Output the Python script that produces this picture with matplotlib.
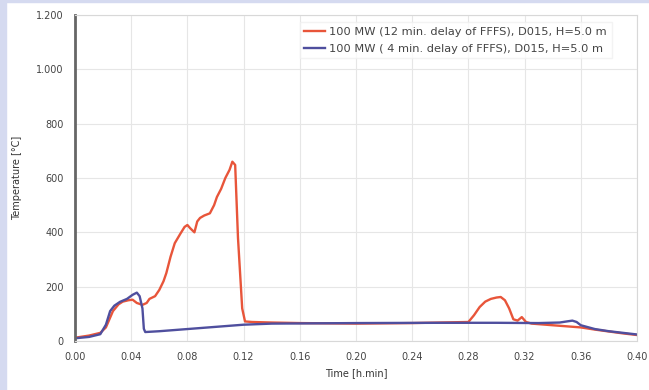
import numpy as np
import matplotlib.pyplot as plt
from matplotlib.patches import Rectangle
from matplotlib.ticker import FuncFormatter

# time [h.min] and temperature [C]
t_red = [0.000, 0.010, 0.018, 0.022, 0.027, 0.031, 0.034, 0.038, 0.041, 0.044,
         0.048, 0.051, 0.053, 0.057, 0.060, 0.063, 0.065, 0.068, 0.071, 0.075,
         0.078, 0.080, 0.082, 0.085, 0.087, 0.089, 0.092, 0.096, 0.099, 0.101,
         0.104, 0.107, 0.110, 0.112, 0.114, 0.116, 0.119, 0.121, 0.126, 0.140,
         0.160, 0.180, 0.200, 0.220, 0.240, 0.260, 0.280, 0.284, 0.288, 0.292,
         0.296, 0.300, 0.303, 0.306, 0.309, 0.312, 0.315, 0.318, 0.321, 0.325,
         0.330, 0.340, 0.350, 0.360, 0.370, 0.380, 0.390, 0.400]
T_red = [12, 20, 30, 50, 110, 135, 145, 150, 152, 140,
         133, 140, 155, 165, 188, 220, 250, 310, 360, 395,
         420, 427, 415, 400, 440, 453, 462, 470, 500, 530,
         560, 600, 630, 660, 648, 380, 120, 72, 70, 68,
         66, 65, 64, 65, 66, 68, 70, 95, 125, 145,
         155, 160, 162, 150, 120, 80, 75, 88, 70, 64,
         62, 58, 54, 50, 42, 35, 28, 22]

t_blue = [0.000, 0.010, 0.018, 0.022, 0.025, 0.028, 0.032, 0.037, 0.041, 0.044,
          0.046, 0.048, 0.049, 0.050, 0.060, 0.080, 0.100, 0.120, 0.140, 0.200,
          0.260, 0.300, 0.330, 0.345, 0.350, 0.354, 0.357, 0.360, 0.370, 0.380,
          0.390, 0.400]
T_blue = [10, 15, 25, 60, 110, 130, 144, 155, 170, 178,
          165, 120, 45, 33, 36, 44, 52, 60, 64, 66,
          67, 67, 66, 68, 72, 75, 70, 58, 44, 36,
          30, 24]

labels = ["100 MW (12 min. delay of FFFS), D015, H=5.0 m",
          "100 MW ( 4 min. delay of FFFS), D015, H=5.0 m"]

fig = plt.figure(figsize=(6.49, 3.90), dpi=100)
fig.patches.append(Rectangle((0, 0), 6 / 649, 1, transform=fig.transFigure,
                             color="#d5daf0", zorder=-1))
fig.patches.append(Rectangle((0, 1 - 2 / 390), 1, 2 / 390, transform=fig.transFigure,
                             color="#d5daf0", zorder=-1))
ax = fig.add_axes([75 / 649, 1 - 341 / 390, 562 / 649, 326 / 390])

ax.plot(t_red, T_red, color="#e8553a", lw=1.7, label=labels[0])
ax.plot(t_blue, T_blue, color="#4f4f9e", lw=1.7, label=labels[1])

ax.set_xlim(0, 0.40)
ax.set_ylim(0, 1200)
ax.set_xticks(np.arange(0, 0.401, 0.04))
ax.set_yticks(np.arange(0, 1201, 200))
ax.xaxis.set_major_formatter(FuncFormatter(lambda v, p: f"{v:.2f}"))
ax.yaxis.set_major_formatter(FuncFormatter(lambda v, p: f"{int(v):,}".replace(",", ".")))
ax.tick_params(labelsize=7, colors="#444444", length=0, pad=8)
ax.grid(True, color="#e6e6e6", lw=0.8)
for s in ["top", "right", "bottom"]:
    ax.spines[s].set_color("#d8d8d8")
ax.spines["left"].set_color("#666666")
ax.spines["left"].set_linewidth(2)

ax.set_xlabel("Time [h.min]", fontsize=7, color="#333333", labelpad=4)
ax.set_ylabel("Temperature [°C]", fontsize=7, color="#333333", labelpad=10)

ax.legend(loc="upper right", bbox_to_anchor=(0.965, 0.995), fontsize=8.2, frameon=True,
          fancybox=False, edgecolor="#f0f0f0", handlelength=1.8, handletextpad=0.4,
          labelcolor="#444444", labelspacing=0.6)

plt.savefig("out.png", dpi=100)
